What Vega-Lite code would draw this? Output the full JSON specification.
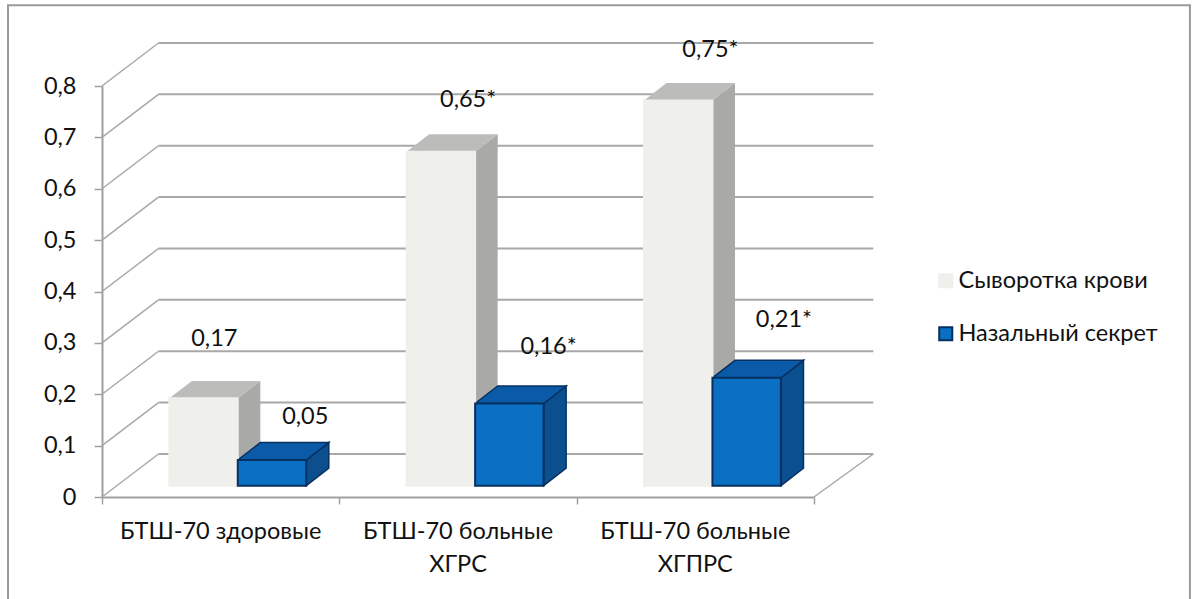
{
  "$schema": "https://vega.github.io/schema/vega-lite/v6.json",
  "width": 712,
  "height": 411,
  "padding": {"left": 102, "top": 86, "right": 379, "bottom": 102},
  "autosize": {"type": "none"},
  "background": "white",
  "view": {"stroke": null},
  "config": {"text": {"font": "Lato", "fontSize": 23.5, "color": "#111111"}},
  "datasets": {
    "bars": [
      {"group": "БТШ-70 здоровые", "g": 0, "s": 0, "series": "Сыворотка крови", "value": 0.17, "label": "0,17"},
      {"group": "БТШ-70 здоровые", "g": 0, "s": 1, "series": "Назальный секрет", "value": 0.05, "label": "0,05"},
      {"group": "БТШ-70 больные ХГРС", "g": 1, "s": 0, "series": "Сыворотка крови", "value": 0.65, "label": "0,65*"},
      {"group": "БТШ-70 больные ХГРС", "g": 1, "s": 1, "series": "Назальный секрет", "value": 0.16, "label": "0,16*"},
      {"group": "БТШ-70 больные ХГПРС", "g": 2, "s": 0, "series": "Сыворотка крови", "value": 0.75, "label": "0,75*"},
      {"group": "БТШ-70 больные ХГПРС", "g": 2, "s": 1, "series": "Назальный секрет", "value": 0.21, "label": "0,21*"}
    ],
    "ticks": [
      {"tick": 0}, {"tick": 0.1}, {"tick": 0.2}, {"tick": 0.3}, {"tick": 0.4},
      {"tick": 0.5}, {"tick": 0.6}, {"tick": 0.7}, {"tick": 0.8}
    ],
    "categories": [
      {"slot": 0.5, "name": "БТШ-70 здоровые"},
      {"slot": 1.5, "name": "БТШ-70 больные\nХГРС"},
      {"slot": 2.5, "name": "БТШ-70 больные\nХГПРС"}
    ],
    "frame": [{"left": -0.396, "right": 4.584, "top": 0.957, "bottom": -0.22}]
  },
  "layer": [
    {
      "description": "Outer chart frame, open at the bottom",
      "data": {"name": "frame"},
      "mark": {"type": "rect", "fill": null, "stroke": "#9a9a9a", "strokeWidth": 2},
      "encoding": {
        "x": {
          "field": "left", "type": "quantitative",
          "scale": {"domain": [0, 3], "nice": false, "zero": false},
          "title": null,
          "axis": {
            "values": [0, 1, 2, 3], "labels": false, "grid": false, "title": null,
            "domainColor": "#a0a0a0", "domainWidth": 2, "tickColor": "#a0a0a0", "tickWidth": 1.5, "tickSize": 7
          }
        },
        "x2": {"field": "right"},
        "y": {
          "field": "top", "type": "quantitative",
          "scale": {"domain": [0, 0.8], "nice": false, "zero": false},
          "title": null,
          "axis": {
            "values": [0, 0.1, 0.2, 0.3, 0.4, 0.5, 0.6, 0.7, 0.8], "grid": false, "title": null,
            "labelExpr": "datum.value === 0 ? '0' : replace(format(datum.value, '.1f'), '.', ',')",
            "labelFont": "Lato", "labelFontSize": 23.5, "labelColor": "#111111", "labelPadding": 18,
            "domainColor": "#a0a0a0", "domainWidth": 2, "tickColor": "#a0a0a0", "tickWidth": 1.5, "tickSize": 8
          }
        },
        "y2": {"field": "bottom"}
      }
    },
    {
      "description": "Back wall gridlines",
      "data": {"name": "ticks"},
      "transform": [
        {"calculate": "0.238", "as": "wallStart"},
        {"calculate": "3.25", "as": "wallEnd"},
        {"calculate": "datum.tick + 0.0837", "as": "wallY"}
      ],
      "mark": {"type": "rule", "color": "#a8a8a8", "strokeWidth": 2},
      "encoding": {
        "x": {"field": "wallStart", "type": "quantitative", "title": null},
        "x2": {"field": "wallEnd"},
        "y": {"field": "wallY", "type": "quantitative", "title": null}
      }
    },
    {
      "description": "Side wall lines running from each tick to the back wall",
      "data": {"name": "ticks"},
      "transform": [
        {"calculate": "0", "as": "x0"},
        {"calculate": "0.238", "as": "x1"},
        {"calculate": "datum.tick + 0.0837", "as": "wallY"}
      ],
      "mark": {"type": "rule", "color": "#a8a8a8", "strokeWidth": 1.5},
      "encoding": {
        "x": {"field": "x0", "type": "quantitative", "title": null},
        "x2": {"field": "x1"},
        "y": {"field": "tick", "type": "quantitative", "title": null},
        "y2": {"field": "wallY"}
      }
    },
    {
      "description": "Right edge of the floor",
      "data": {"name": "ticks"},
      "transform": [
        {"filter": "datum.tick === 0"},
        {"calculate": "3", "as": "x0"},
        {"calculate": "3.25", "as": "x1"},
        {"calculate": "datum.tick + 0.0837", "as": "wallY"}
      ],
      "mark": {"type": "rule", "color": "#a8a8a8", "strokeWidth": 1.5},
      "encoding": {
        "x": {"field": "x0", "type": "quantitative", "title": null},
        "x2": {"field": "x1"},
        "y": {"field": "tick", "type": "quantitative", "title": null},
        "y2": {"field": "wallY"}
      }
    },
    {
      "description": "3D columns: each bar gets a near and a far edge, so depth faces are areas between them",
      "data": {"name": "bars"},
      "transform": [
        {"calculate": "0", "as": "near"},
        {"calculate": "1", "as": "far"},
        {"fold": ["near", "far"], "as": ["edge", "depth"]},
        {"calculate": "datum.g + '-' + datum.s", "as": "id"},
        {"calculate": "datum.g + 0.2836 + datum.s * 0.2885 + datum.depth * 0.095", "as": "lx"},
        {"calculate": "datum.lx + 0.2885", "as": "rx"},
        {"calculate": "0.022 + datum.depth * 0.034", "as": "by"},
        {"calculate": "datum.by + datum.value", "as": "ty"}
      ],
      "layer": [
        {
          "transform": [{"filter": "datum.s === 0"}],
          "mark": {"type": "area", "color": "#a9a9a7"},
          "encoding": {
            "x": {"field": "rx", "type": "quantitative", "title": null},
            "y": {"field": "ty", "type": "quantitative", "title": null},
            "y2": {"field": "by"},
            "detail": {"field": "id"}
          }
        },
        {
          "transform": [{"filter": "datum.s === 0"}],
          "mark": {"type": "area", "orient": "horizontal", "color": "#bcbcba"},
          "encoding": {
            "y": {"field": "ty", "type": "quantitative", "title": null},
            "x": {"field": "lx", "type": "quantitative", "title": null},
            "x2": {"field": "rx"},
            "detail": {"field": "id"}
          }
        },
        {
          "transform": [{"filter": "datum.s === 1"}],
          "mark": {"type": "area", "color": "#0b4f8e", "stroke": "#07305f", "strokeWidth": 1.5},
          "encoding": {
            "x": {"field": "rx", "type": "quantitative", "title": null},
            "y": {"field": "ty", "type": "quantitative", "title": null},
            "y2": {"field": "by"},
            "detail": {"field": "id"}
          }
        },
        {
          "transform": [{"filter": "datum.s === 1"}],
          "mark": {"type": "area", "orient": "horizontal", "color": "#0a5aa8", "stroke": "#07305f", "strokeWidth": 1.5},
          "encoding": {
            "y": {"field": "ty", "type": "quantitative", "title": null},
            "x": {"field": "lx", "type": "quantitative", "title": null},
            "x2": {"field": "rx"},
            "detail": {"field": "id"}
          }
        },
        {
          "transform": [{"filter": "datum.depth === 0"}],
          "mark": {"type": "rect", "strokeWidth": 2},
          "encoding": {
            "x": {"field": "lx", "type": "quantitative", "title": null},
            "x2": {"field": "rx"},
            "y": {"field": "ty", "type": "quantitative", "title": null},
            "y2": {"field": "by"},
            "color": {
              "field": "series", "type": "nominal",
              "scale": {"domain": ["Сыворотка крови", "Назальный секрет"], "range": ["#efefec", "#0b6fc4"]},
              "legend": {
                "title": null, "orient": "none", "legendX": 832, "legendY": 183,
                "symbolType": "square", "symbolSize": 170, "symbolStrokeWidth": 2,
                "rowPadding": 28, "labelFont": "Lato", "labelFontSize": 23.5, "labelColor": "#111111",
                "labelOffset": 1, "labelLimit": 300
              }
            },
            "stroke": {
              "field": "series", "type": "nominal",
              "scale": {"domain": ["Сыворотка крови", "Назальный секрет"], "range": ["#efefec", "#07305f"]},
              "legend": null
            }
          }
        },
        {
          "transform": [{"filter": "datum.depth === 0 && datum.label === '0,17'"}],
          "mark": {"type": "text", "dx": 45, "dy": -59},
          "encoding": {
            "x": {"field": "lx", "type": "quantitative", "title": null},
            "y": {"field": "ty", "type": "quantitative", "title": null},
            "text": {"field": "label"}
          }
        },
        {
          "transform": [{"filter": "datum.depth === 0 && datum.label === '0,05'"}],
          "mark": {"type": "text", "dx": -1, "dy": -43},
          "encoding": {
            "x": {"field": "rx", "type": "quantitative", "title": null},
            "y": {"field": "ty", "type": "quantitative", "title": null},
            "text": {"field": "label"}
          }
        },
        {
          "transform": [{"filter": "datum.depth === 0 && datum.label === '0,65*'"}],
          "mark": {"type": "text", "dx": -7, "dy": -52},
          "encoding": {
            "x": {"field": "rx", "type": "quantitative", "title": null},
            "y": {"field": "ty", "type": "quantitative", "title": null},
            "text": {"field": "label"}
          }
        },
        {
          "transform": [{"filter": "datum.depth === 0 && datum.label === '0,16*'"}],
          "mark": {"type": "text", "dx": 5, "dy": -56},
          "encoding": {
            "x": {"field": "rx", "type": "quantitative", "title": null},
            "y": {"field": "ty", "type": "quantitative", "title": null},
            "text": {"field": "label"}
          }
        },
        {
          "transform": [{"filter": "datum.depth === 0 && datum.label === '0,75*'"}],
          "mark": {"type": "text", "dx": -2, "dy": -50},
          "encoding": {
            "x": {"field": "rx", "type": "quantitative", "title": null},
            "y": {"field": "ty", "type": "quantitative", "title": null},
            "text": {"field": "label"}
          }
        },
        {
          "transform": [{"filter": "datum.depth === 0 && datum.label === '0,21*'"}],
          "mark": {"type": "text", "dx": 3, "dy": -58},
          "encoding": {
            "x": {"field": "rx", "type": "quantitative", "title": null},
            "y": {"field": "ty", "type": "quantitative", "title": null},
            "text": {"field": "label"}
          }
        }
      ]
    },
    {
      "description": "Category labels under the axis, wrapped as in the source captions",
      "data": {"name": "categories"},
      "transform": [{"calculate": "0", "as": "base"}],
      "mark": {"type": "text", "lineBreak": "\n", "lineHeight": 33, "baseline": "middle", "dy": 35},
      "encoding": {
        "x": {"field": "slot", "type": "quantitative", "title": null},
        "y": {"field": "base", "type": "quantitative", "title": null},
        "text": {"field": "name"}
      }
    }
  ]
}
